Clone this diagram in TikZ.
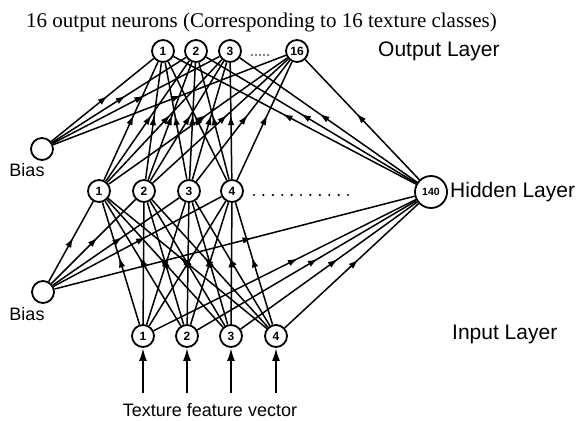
\documentclass[tikz,border=0pt]{standalone}
\usepackage{fontspec}
\setmainfont{Liberation Serif}
\setsansfont{Liberation Sans}
\usetikzlibrary{arrows.meta,decorations.markings}
\begin{document}
\begin{tikzpicture}[x=1pt,y=-1pt,
  neuron/.style={circle,draw,line width=1.8pt,minimum size=22pt,inner sep=0pt,
    font=\sffamily\bfseries\fontsize{12}{12}\selectfont},
  bigneuron/.style={neuron,minimum size=32pt,font=\sffamily\bfseries\fontsize{10.5}{10.5}\selectfont},
  conn/.style={line width=1.5pt,postaction={decorate},
    decoration={markings,mark=at position #1 with {\arrow{Latex[length=10pt,width=6.5pt]}}}},
  conn/.default=0.55,
  feed/.style={line width=2.2pt,-{Latex[length=13pt,width=8pt]}},
  lbl/.style={font=\sffamily\fontsize{21}{21}\selectfont},
  small/.style={font=\sffamily\fontsize{18}{18}\selectfont}]
\useasboundingbox (0,0) rectangle (585,420);

% title
\node[anchor=base west,font=\fontsize{21}{21}\selectfont,inner sep=0pt] (title) at (26,28)
  {16 output neurons (Corresponding to 16 texture classes)};

% output layer
\node[neuron] (o1) at (163,51) {1};
\node[neuron] (o2) at (196,51) {2};
\node[neuron] (o3) at (230,51) {3};
\node[neuron] (o16) at (297,51) {16};
\foreach \k in {0,...,4} \fill (252+\k*4,55) circle (0.9pt);
\node[lbl,anchor=west,inner sep=0pt] (ol) at (378,51) {Output Layer};

% hidden layer
\node[neuron] (h1) at (99,191) {1};
\node[neuron] (h2) at (144,191) {2};
\node[neuron] (h3) at (189,191) {3};
\node[neuron] (h4) at (232,191) {4};
\node[bigneuron] (h140) at (431,192) {140};
\foreach \k in {0,...,10} \fill (254+\k*9.4,195) circle (1.2pt);
\node[lbl,anchor=west,inner sep=0pt] (hl) at (450,192) {Hidden Layer};

% input layer
\node[neuron] (i1) at (143,336) {1};
\node[neuron] (i2) at (187,336) {2};
\node[neuron] (i3) at (231,336) {3};
\node[neuron] (i4) at (276,336) {4};
\node[lbl,anchor=west,inner sep=0pt] (il) at (452,334) {Input Layer};

% bias units
\node[neuron] (bt) at (42,149) {};
\node[small] (btl) at (27,170) {Bias};
\node[neuron] (bb) at (43,292) {};
\node[small] (bbl) at (27,314) {Bias};

% input feed arrows
\foreach \n/\x in {1/143,2/187,3/231,4/276} {
  \coordinate (s\n) at (\x,393);
  \draw[feed] (s\n) -- (i\n);
}
\node[small] (tfv) at (210,410) {Texture feature vector};

% input -> hidden
\foreach \a in {i1,i2,i3,i4,bb} {
  \foreach \b in {h1,h2,h3,h4,h140} {
    \draw[conn] (\a) -- (\b);
  }
}
% hidden -> output
\foreach \a in {h1,h2,h3,h4,h140,bt} {
  \foreach \b in {o1,o2,o3,o16} {
    \draw[conn] (\a) -- (\b);
  }
}
\end{tikzpicture}
\end{document}
